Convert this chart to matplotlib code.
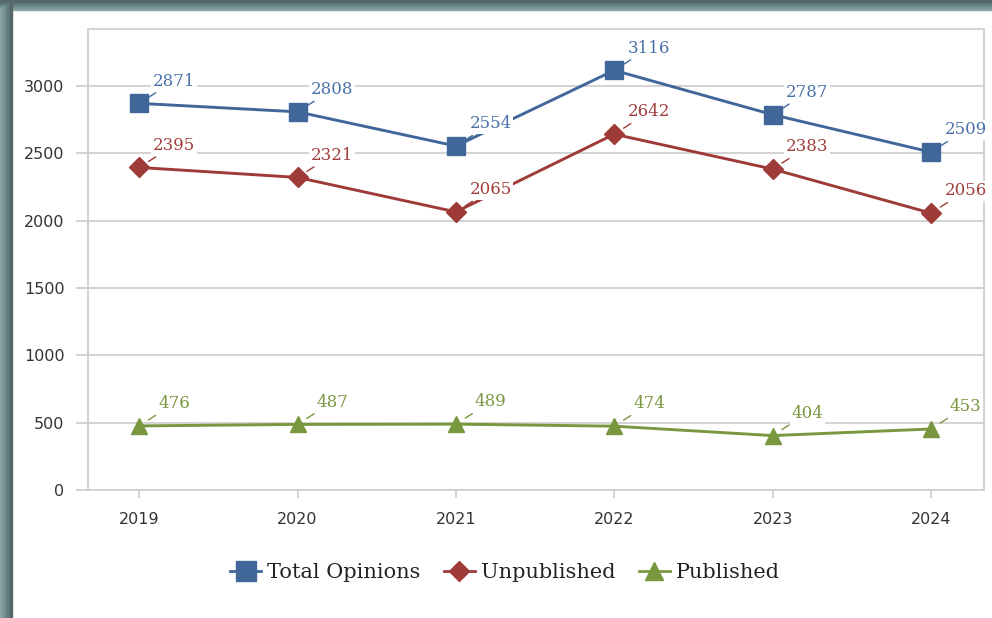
import matplotlib.pyplot as plt
from matplotlib.lines import Line2D
from matplotlib.patches import Rectangle
import numpy as np

years = ['2019', '2020', '2021', '2022', '2023', '2024']
total = [2871, 2808, 2554, 3116, 2787, 2509]
unpublished = [2395, 2321, 2065, 2642, 2383, 2056]
published = [476, 487, 489, 474, 404, 453]

series = [
    ('Total Opinions', total, '#41679a', '#4a72a8', 's', 13.5),
    ('Unpublished', unpublished, '#9e3b39', '#a0403c', 'D', 10),
    ('Published', published, '#78973e', '#7a9640', '^', 12),
]

fig = plt.figure(figsize=(9.92, 6.18), dpi=100)
W, H = 992, 618

# dark frame around the chart area (top and left)
for i, c in enumerate(['#8aa5a6', '#7b9798', '#6d898b', '#60797c', '#55696b']):
    fig.patches.append(Rectangle((0, 1 - (10 - i * 2) / H), 1, 2 / H,
                                 transform=fig.transFigure, color=c, zorder=0))
    fig.patches.append(Rectangle((i * 2.4 / W, 0), 2.4 / W, 1,
                                 transform=fig.transFigure, color=c, zorder=0))

ax = fig.add_axes([88 / W, 1 - 490 / H, (984 - 88) / W, (490 - 29) / H])
x = np.arange(len(years))

for name, vals, col, tcol, mk, ms in series:
    ax.plot(x, vals, color=col, lw=2.1, marker=mk, ms=ms, label=name, zorder=3)
    for xi, v in zip(x, vals):
        ax.annotate(str(v), (xi, v), xytext=(25, 16), textcoords='offset points',
                    ha='center', va='center', fontsize=12, family='DejaVu Serif',
                    color=tcol, zorder=4,
                    bbox=dict(boxstyle='square,pad=0.1', fc='white', ec='none'),
                    arrowprops=dict(arrowstyle='-', color=col, lw=1,
                                    shrinkA=2, shrinkB=8))

ax.set_xlim(-0.323, 5.335)
ax.set_ylim(0, 3423)
ax.set_yticks(range(0, 3001, 500))
ax.set_xticks(x)
ax.set_xticklabels(years)
ax.grid(axis='y', color='#d0d0d0', lw=1.3, zorder=0)
for s in ax.spines.values():
    s.set_color('#d0d0d0')
    s.set_linewidth(1.3)
ax.tick_params(axis='y', length=9, color='#d0d0d0', width=1.3, pad=8,
               labelsize=11.5, labelcolor='#333333')
ax.tick_params(axis='x', length=6, color='#d0d0d0', width=1.3, pad=10,
               labelsize=11.5, labelcolor='#333333')

handles = [Line2D([], [], color=c, lw=2, marker=m, ms=ms * 1.05)
           for _, _, c, _, m, ms in series]
fig.legend(handles, [s[0] for s in series], loc='center', ncol=3,
           bbox_to_anchor=(505 / W, 1 - 573 / H), frameon=False,
           prop={'family': 'DejaVu Serif', 'size': 15}, handlelength=1.5,
           handletextpad=0.3, columnspacing=1.1, labelcolor='#222222')

plt.savefig('out.png')
